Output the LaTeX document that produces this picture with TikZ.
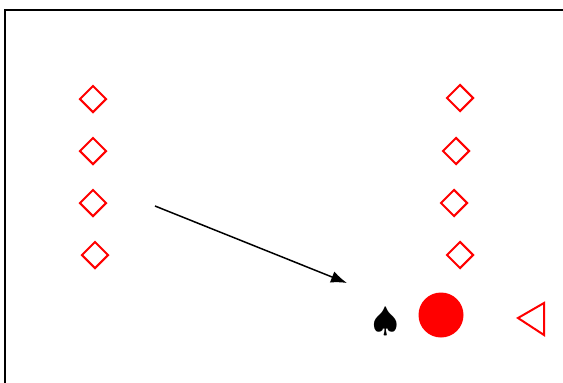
\documentclass[tikz,border=0pt]{standalone}
\usepackage{xcolor}
\usepackage{tikz}
\usetikzlibrary{arrows.meta,shapes.geometric}

\begin{document}
\begin{tikzpicture}[x=1pt,y=-1pt,
  dia/.style={draw=red,diamond,line width=2pt,minimum size=27pt,inner sep=0pt},
  dot/.style={circle,fill=red,minimum size=45pt,inner sep=0pt}]
  \useasboundingbox (0,0) rectangle (563,383);
  % frame
  \draw[line width=1.6pt] (5,383)--(5,10)--(563,10);
  % left column
  \node[dia] (l1) at (93,99) {};
  \node[dia] (l2) at (93,151) {};
  \node[dia] (l3) at (93,203) {};
  \node[dia] (l4) at (95,255) {};
  % right column
  \node[dia] (r1) at (460,98) {};
  \node[dia] (r2) at (456,151) {};
  \node[dia] (r3) at (454,203) {};
  \node[dia] (r4) at (460,255) {};
  % bottom row
  \node[scale=3.4,inner sep=0pt] (spade) at (386,322) {$\spadesuit$};
  \node[dot] (ball) at (441,315) {};
  \draw[red,line width=2pt] (518,318)--(544,303)--(544,335)--cycle;
  \coordinate (from) at (155,206);
  \coordinate (to) at (347,283);
  \draw[-{Latex[length=16pt,width=12pt]},line width=1.5pt] (from)--(to);
\end{tikzpicture}
\end{document}
